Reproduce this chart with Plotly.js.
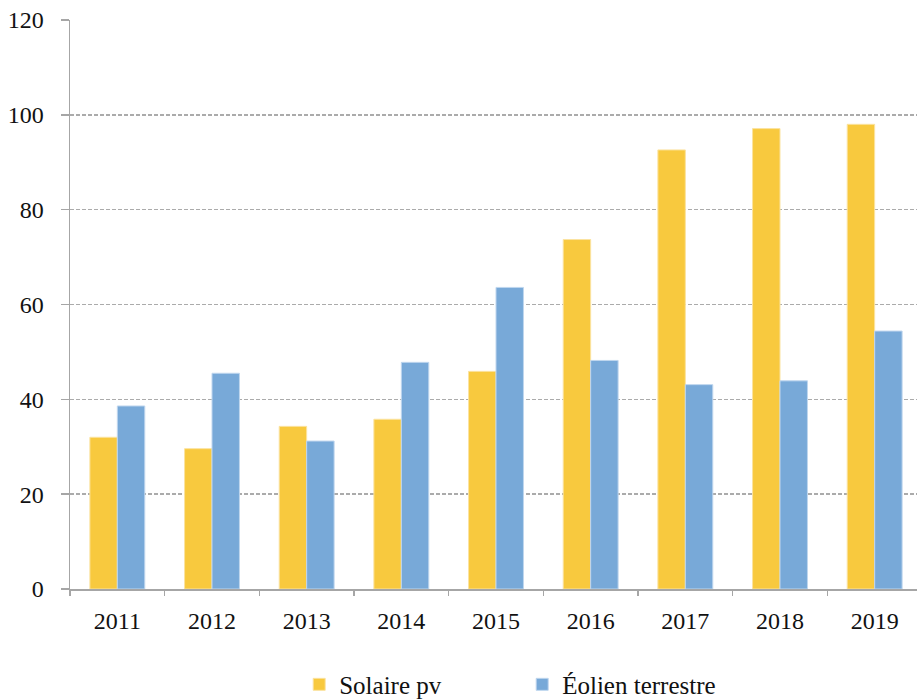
<!DOCTYPE html>
<html><head><meta charset="utf-8">
<script src="https://cdn.plot.ly/plotly-3.0.1.min.js"></script>
<style>html,body{margin:0;padding:0;overflow:hidden;background:#fff;width:917px;height:699px}</style>
</head><body><div id="chart"></div>
<script>
const years = ['2011','2012','2013','2014','2015','2016','2017','2018','2019'];
const solaire = [32.0, 29.6, 34.3, 35.8, 45.9, 73.7, 92.6, 97.1, 98.0];
const eolien = [38.6, 45.5, 31.2, 47.8, 63.6, 48.2, 43.1, 43.9, 54.4];
const yTicks = [0, 20, 40, 60, 80, 100, 120];

const font = {family: 'Liberation Serif, Times New Roman, serif', color: '#111', size: 24};
const traces = [
  {type: 'bar', name: 'Solaire pv', x: years, y: solaire,
   marker: {color: '#F8C93E', line: {color: '#FBE3A0', width: 1}}},
  {type: 'bar', name: 'Éolien terrestre', x: years, y: eolien,
   marker: {color: '#78A9D8', line: {color: '#BFD6EE', width: 1}}}
];
const layout = {
  width: 924, height: 699,
  margin: {l: 70, r: 2, t: 19.5, b: 110, autoexpand: false},
  paper_bgcolor: '#fff', plot_bgcolor: '#fff',
  font: font,
  barmode: 'group', bargap: 0.42, bargroupgap: 0,
  showlegend: true,
  legend: {orientation: 'h', x: 0.269, xanchor: 'left', y: -0.168, yanchor: 'middle',
           font: {family: font.family, size: 25, color: '#111'}, entrywidth: 178, entrywidthmode: 'pixels'},
  xaxis: {type: 'category', showline: true, linecolor: '#A6A6A6', linewidth: 1.5,
          ticks: 'outside', tickson: 'boundaries', ticklen: 5, tickcolor: '#A6A6A6', tickwidth: 1.5,
          showgrid: false, ticklabelstandoff: 10, tickfont: font, fixedrange: true},
  yaxis: {range: [0, 120], tickvals: yTicks, showline: true, linecolor: '#A6A6A6', linewidth: 1.5,
          ticks: 'outside', ticklen: 8, tickcolor: '#A6A6A6', tickwidth: 1.5,
          showgrid: true, gridcolor: '#ABABAB', gridwidth: 1.5, griddash: '4px,2px',
          zeroline: false, ticklabelstandoff: 12, tickfont: font, fixedrange: true}
};
Plotly.newPlot('chart', traces, layout, {staticPlot: true, displayModeBar: false});
</script></body></html>
